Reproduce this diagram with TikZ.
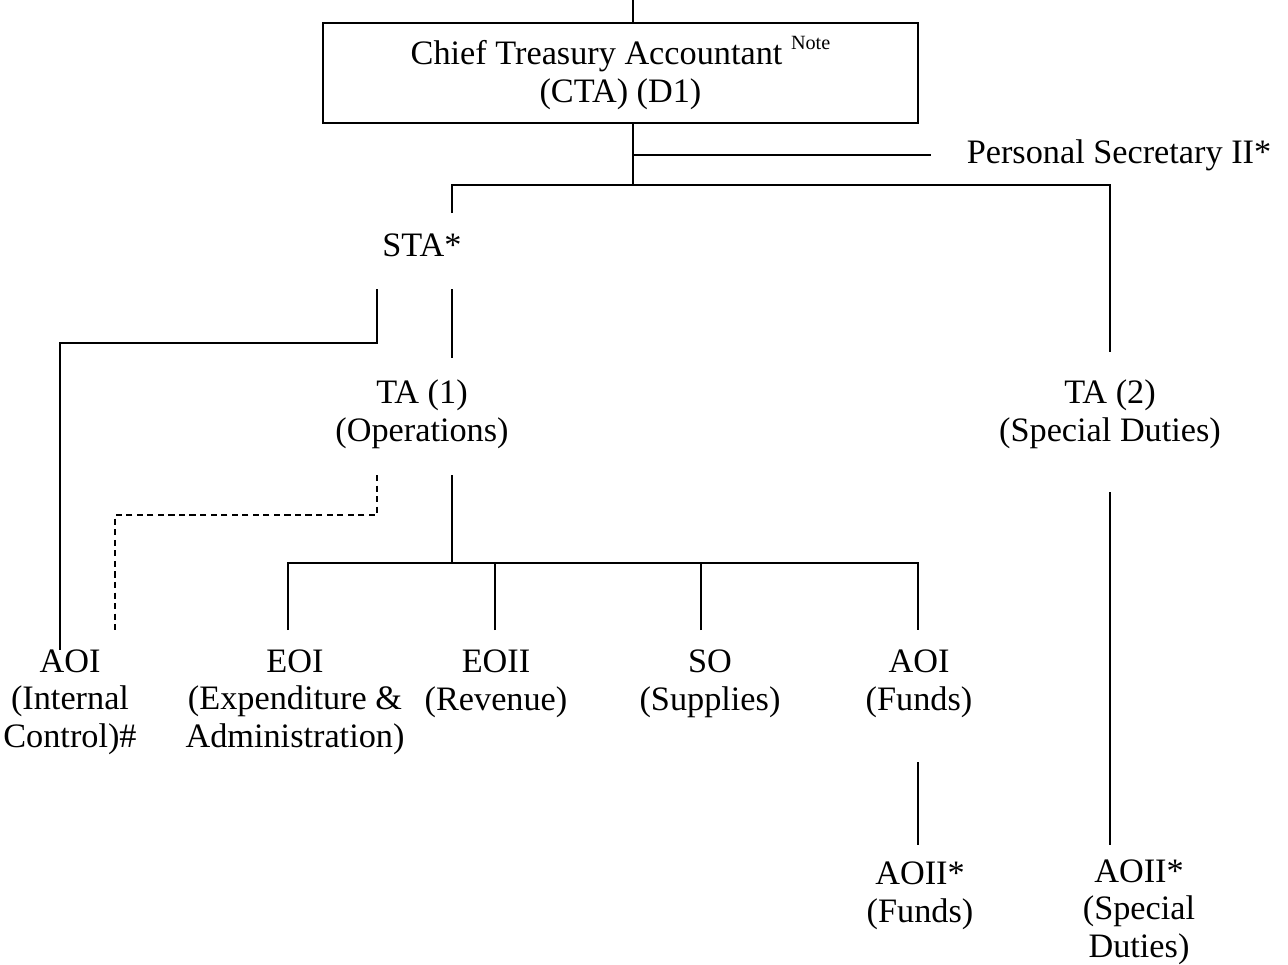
\documentclass[tikz,border=0pt]{standalone}
\usepackage{fontspec}
\setmainfont{Liberation Serif}
\newcommand{\notemark}{\raisebox{8.5pt}{\fontsize{11.5}{12}\selectfont Note}}
\begin{document}
\begin{tikzpicture}[x=0.02cm,y=-0.02cm,
    post/.style={align=center,inner sep=0pt,anchor=base,
      font=\fontsize{19.5}{21.3}\selectfont},
    chiefbox/.style={draw,line width=1.1pt,minimum width=11.9cm,
      minimum height=2cm,align=center,
      font=\fontsize{19.5}{21.3}\selectfont},
    link/.style={line width=0.8pt},
    dotlink/.style={line width=0.8pt,dash pattern=on 3.5pt off 2.5pt}]
  \useasboundingbox (0,0) rectangle (1288,964);

  % Cargos (base = linea de base de la ultima linea)
  \node[chiefbox] (cta) at (620.5,73)
    {Chief Treasury Accountant \notemark\\(CTA) (D1)};
  \node[post] (ps) at (1119,163) {Personal Secretary II*};
  \node[post] (sta) at (422,256) {STA*};
  \node[post] (ta1) at (422,441) {TA (1)\\(Operations)};
  \node[post] (ta2) at (1110,441) {TA (2)\\(Special Duties)};
  \node[post] (aoiic) at (70,747) {AOI\\(Internal\\Control)\#};
  \node[post] (eoi) at (295,747) {EOI\\(Expenditure \&\\Administration)};
  \node[post] (eoii) at (496,710) {EOII\\(Revenue)};
  \node[post] (so) at (710,710) {SO\\(Supplies)};
  \node[post] (aoif) at (919,710) {AOI\\(Funds)};
  \node[post] (aoiif) at (920,922) {AOII*\\(Funds)};
  \node[post] (aoiisd) at (1139,957) {AOII*\\(Special\\Duties)};

  % Puntos de las lineas
  \coordinate (top) at (633,0);
  \coordinate (hub) at (633,185);
  \coordinate (ps-end) at (931,155);
  \coordinate (sta-in) at (452,213);
  \coordinate (ta2-in) at (1110,352);
  \coordinate (sta-out1) at (377,289);
  \coordinate (ic-turn) at (377,343);
  \coordinate (aoiic-in) at (60,650);
  \coordinate (sta-out2) at (452,289);
  \coordinate (ta1-in) at (452,358);
  \coordinate (ta1-out1) at (377,475);
  \coordinate (dash-turn) at (377,515);
  \coordinate (aoiic-in2) at (115,632);
  \coordinate (ta1-out2) at (452,475);
  \coordinate (ops-hub) at (452,563);
  \coordinate (eoi-in) at (288,630);
  \coordinate (eoii-in) at (495,630);
  \coordinate (so-in) at (701,630);
  \coordinate (aoif-in) at (918,630);
  \coordinate (aoif-out) at (918,762);
  \coordinate (aoiif-in) at (918,845);
  \coordinate (ta2-out) at (1110,492);
  \coordinate (aoiisd-in) at (1110,845);

  % Lineas de mando
  \draw[link] (top) -- (cta.north -| top);
  \draw[link] (cta.south -| hub) -- (hub);
  \draw[link] (ps-end -| hub) -- (ps-end);
  \draw[link] (sta-in) |- (hub) -| (ta2-in);
  \draw[link] (sta-out1) -- (ic-turn) -| (aoiic-in);
  \draw[link] (sta-out2) -- (ta1-in);
  \draw[dotlink] (ta1-out1) -- (dash-turn) -| (aoiic-in2);
  \draw[link] (ta1-out2) -- (ops-hub);
  \draw[link] (eoi-in) |- (ops-hub) -| (aoif-in);
  \foreach \p in {eoii-in,so-in}
    \draw[link] (\p) -- (\p |- ops-hub);
  \draw[link] (aoif-out) -- (aoiif-in);
  \draw[link] (ta2-out) -- (aoiisd-in);
\end{tikzpicture}
\end{document}
